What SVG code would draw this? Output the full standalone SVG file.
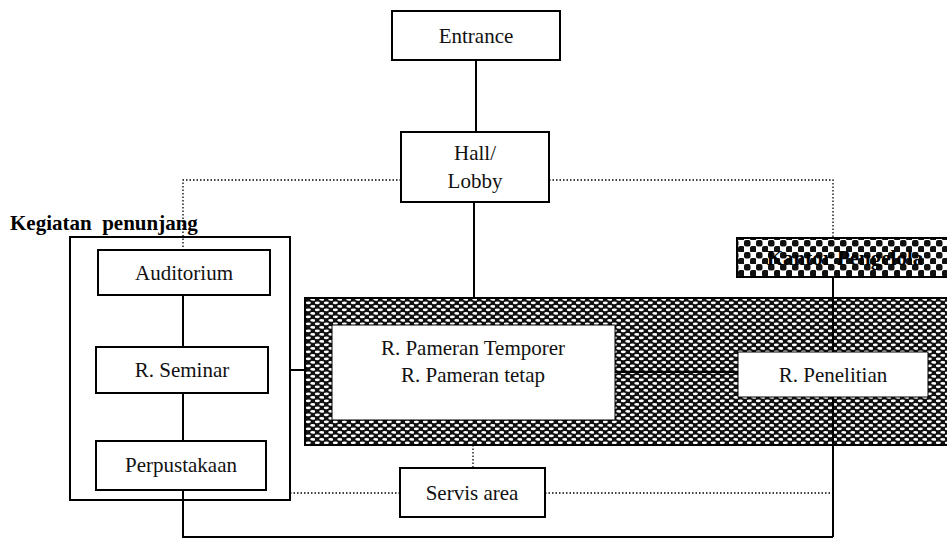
<svg xmlns="http://www.w3.org/2000/svg" width="947" height="539" viewBox="0 0 947 539">
<style>
.box{fill:#fff;stroke:#000;stroke-width:2}
.t{font-family:"Liberation Serif","Times New Roman",serif;font-size:21px;fill:#111;text-anchor:middle}
.b{font-family:"Liberation Serif","Times New Roman",serif;font-size:21px;font-weight:bold;fill:#000}
.k{font-family:"Liberation Serif","Times New Roman",serif;font-size:21px;font-weight:bold;fill:#000;text-anchor:middle}
.solid{fill:none;stroke:#000;stroke-width:2}
.dot{fill:none;stroke:#000;stroke-width:1.3;stroke-dasharray:1.5 2}
</style>
<defs>
<pattern id="dense" width="9" height="7" patternUnits="userSpaceOnUse">
<rect width="9" height="7" fill="#111"/>
<ellipse cx="2.3" cy="1.8" rx="2.6" ry="1.4" fill="#fff"/>
<ellipse cx="6.8" cy="5.3" rx="2.6" ry="1.4" fill="#fff"/>
</pattern>
<pattern id="check" width="12" height="12" patternUnits="userSpaceOnUse">
<rect width="12" height="12" fill="#fff"/>
<rect x="0" y="0" width="6.5" height="6.5" rx="2" fill="#111"/>
<rect x="6" y="6" width="6.5" height="6.5" rx="2" fill="#111"/>
</pattern>
</defs>

<g id="connectors">
<line class="solid" x1="476" y1="60" x2="476" y2="132"/>
<line class="solid" x1="474" y1="202" x2="474" y2="298"/>
<polyline class="dot" points="401,180 183,180 183,250"/>
<polyline class="dot" points="549,180 833,180 833,238"/>
<line class="solid" x1="183" y1="295" x2="183" y2="347"/>
<line class="solid" x1="183" y1="393" x2="183" y2="441"/>
<line class="solid" x1="290" y1="370" x2="305" y2="370"/>
<polyline class="dot" points="290,493 400,493"/>
<polyline class="dot" points="545,493 833,493"/>
<line class="dot" x1="473" y1="445" x2="473" y2="468"/>
<polyline class="solid" points="183,490 183,537 833,537"/>
<line class="solid" x1="833" y1="445" x2="833" y2="537"/>
</g>

<g id="band">
<rect x="305" y="298" width="643" height="147" fill="url(#dense)" stroke="#000" stroke-width="2"/>
<line x1="833" y1="277" x2="833" y2="352" stroke="#000" stroke-width="2"/>
<line x1="833" y1="397" x2="833" y2="445" stroke="#000" stroke-width="2"/>
<line x1="615" y1="372" x2="738" y2="372" stroke="#000" stroke-width="2"/>
</g>

<g id="kantor">
<rect x="737" y="238" width="212" height="39" fill="url(#check)" stroke="#000" stroke-width="2"/>
<text class="k" x="845" y="265">Kantor Pengelola</text>
</g>

<g id="entrance">
<rect class="box" x="392" y="11" width="168" height="49"/>
<text class="t" x="476" y="43">Entrance</text>
</g>

<g id="hall">
<rect class="box" x="401" y="132" width="148" height="70"/>
<text class="t" x="475" y="160">Hall/</text>
<text class="t" x="475" y="188">Lobby</text>
</g>

<g id="kegiatan">
<rect x="70" y="237" width="220" height="263" fill="none" stroke="#000" stroke-width="2"/>
<text class="b" x="10" y="230" xml:space="preserve">Kegiatan  penunjang</text>
</g>

<g id="auditorium">
<rect class="box" x="98" y="250" width="172" height="45"/>
<text class="t" x="184" y="280">Auditorium</text>
</g>

<g id="seminar">
<rect class="box" x="96" y="347" width="172" height="46"/>
<text class="t" x="182" y="377">R. Seminar</text>
</g>

<g id="perpustakaan">
<rect class="box" x="96" y="441" width="170" height="49"/>
<text class="t" x="181" y="472">Perpustakaan</text>
</g>

<g id="pameran">
<rect x="332" y="325" width="283" height="95" fill="#fff" stroke="#000" stroke-width="1"/>
<text class="t" x="473" y="355">R. Pameran Temporer</text>
<text class="t" x="473" y="382">R. Pameran tetap</text>
</g>

<g id="penelitian">
<rect x="738" y="352" width="190" height="45" fill="#fff" stroke="#000" stroke-width="1"/>
<text class="t" x="833" y="382">R. Penelitian</text>
</g>

<g id="servis">
<rect class="box" x="400" y="468" width="145" height="49"/>
<text class="t" x="472" y="500">Servis area</text>
</g>
</svg>
